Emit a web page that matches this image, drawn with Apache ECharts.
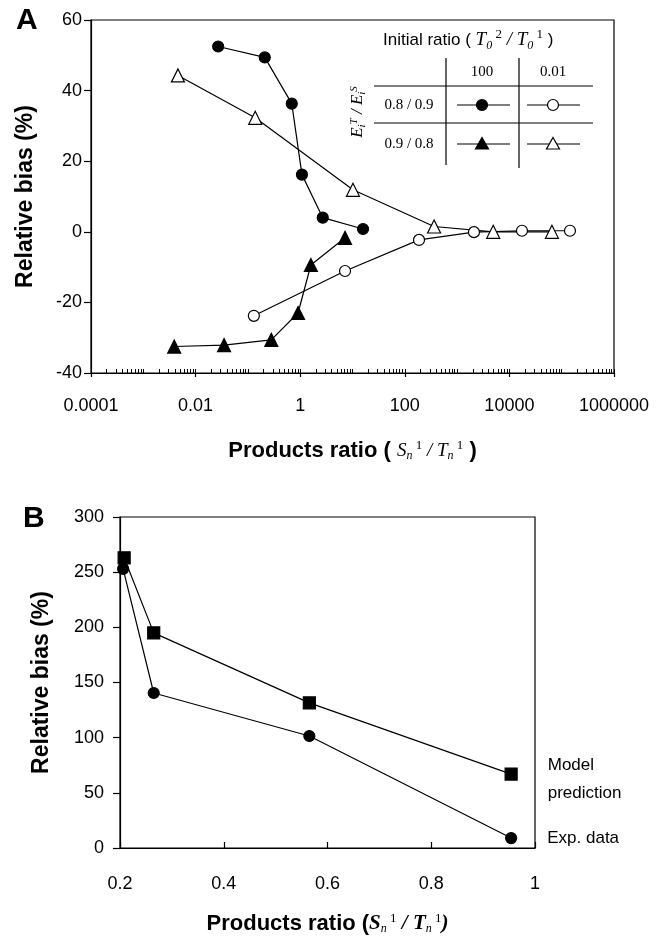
<!DOCTYPE html>
<html>
<head>
<meta charset="utf-8">
<script src="https://cdn.jsdelivr.net/npm/echarts@6/dist/echarts.min.js"></script>
<style>
  html, body { margin: 0; padding: 0; background: #fff; }
  #chart { width: 657px; height: 939px; }
</style>
</head>
<body>
<div id="chart"></div>
<script>
// panel A : relative bias vs products ratio (log x)
const aFilledCircleX = [0.027, 0.21, 0.69, 1.08, 2.7, 15.9];
const aFilledCircleY = [52.5, 49.4, 36.3, 16.2, 4.0, 0.8];
const aOpenCircleX = [0.13, 7.2, 187, 2100, 17400, 144000];
const aOpenCircleY = [-23.8, -11.1, -2.3, -0.1, 0.3, 0.3];
const aFilledTriX = [0.0039, 0.035, 0.28, 0.91, 1.6, 7.2];
const aFilledTriY = [-32.5, -32.1, -30.6, -23.0, -9.4, -1.7];
const aOpenTriX = [0.0046, 0.138, 10.2, 363, 4900, 65000];
const aOpenTriY = [44.3, 32.3, 11.9, 1.5, 0, 0];

const xTicksA = [0.0001, 0.01, 1, 100, 10000, 1000000];
const xTickLabelsA = ['0.0001', '0.01', '1', '100', '10000', '1000000'];

// panel B
const bModelX = [0.208, 0.265, 0.565, 0.954];
const bModelY = [263, 195, 131.5, 67];
const bExpX = [0.206, 0.265, 0.565, 0.954];
const bExpY = [253, 140.5, 101.5, 9];

// minor ticks of the log axis (1..9 per decade)
const minorTicksA = [];
for (let e = -4; e < 6; e++) {
    for (let k = 1; k < 10; k++) minorTicksA.push(k * Math.pow(10, e));
}
minorTicksA.push(1e6);

const pairs = (xs, ys) => xs.map((x, i) => [x, ys[i]]);
const SANS = 'Liberation Sans, Arial, sans-serif';
const SERIF = 'Liberation Serif, Times New Roman, serif';
const black = '#000';

const chart = echarts.init(document.getElementById('chart'), null, { renderer: 'canvas' });

const axisCommon = {
    axisLine: { show: true, onZero: false, lineStyle: { color: black, width: 1.2 } },
    splitLine: { show: false },
    axisLabel: { color: black, fontSize: 18, fontFamily: SANS },
    nameTextStyle: { color: black, fontFamily: SANS, fontWeight: 'bold', fontSize: 23 }
};

function lineSeries(name, xi, yi, data, symbol, size, filled) {
    return {
        name: name,
        type: 'line',
        xAxisIndex: xi,
        yAxisIndex: yi,
        data: data,
        symbol: symbol,
        symbolSize: size,
        showAllSymbol: true,
        lineStyle: { color: black, width: 1.2 },
        itemStyle: { color: filled ? black : '#fff', borderColor: black, borderWidth: 1.2 },
        emphasis: { disabled: true },
        animation: false
    };
}

function tri(cx, cy, filled) {
    return {
        type: 'polygon',
        shape: { points: [[cx, cy - 6.5], [cx + 6.5, cy + 5], [cx - 6.5, cy + 5]] },
        style: { fill: filled ? black : '#fff', stroke: black, lineWidth: 1.2 }
    };
}

const supRich = {
    s: { fontFamily: SERIF, fontStyle: 'italic', fontSize: 19, color: black },
    sub: { fontFamily: SERIF, fontStyle: 'italic', fontSize: 12, color: black, verticalAlign: 'bottom', padding: [10, 0, 0, 0] },
    sup: { fontFamily: SERIF, fontSize: 13, color: black, verticalAlign: 'top', padding: [0, 0, 10, 0] },
    t: { fontFamily: SANS, fontSize: 17, color: black }
};

chart.setOption({
    backgroundColor: '#fff',
    animation: false,
    grid: [
        { left: 91, top: 20, width: 523, height: 353, show: true, borderColor: black, borderWidth: 1.2 },
        { left: 120, top: 517, width: 415, height: 331, show: true, borderColor: black, borderWidth: 1.2 }
    ],
    xAxis: [
        Object.assign({}, axisCommon, {
            gridIndex: 0, type: 'log', logBase: 10, min: 0.0001, max: 1000000,
            axisTick: { show: true, inside: false, length: 4, lineStyle: { color: black, width: 1.2 }, customValues: xTicksA },
            axisLabel: Object.assign({}, axisCommon.axisLabel, {
                margin: 24,
                customValues: xTicksA,
                formatter: (v) => {
                    const i = xTicksA.findIndex(t => Math.abs(Math.log10(t) - Math.log10(v)) < 1e-6);
                    return i >= 0 ? xTickLabelsA[i] : '';
                }
            }),
            name: '{b|Products ratio ( }{s|S}{sub|n}{sup| 1}{s| / T}{sub|n}{sup| 1}{b| )}',
            nameLocation: 'middle', nameGap: 66,
            nameTextStyle: {
                rich: Object.assign({}, supRich, {
                    b: { fontFamily: SANS, fontWeight: 'bold', fontSize: 22, color: black }
                })
            }
        }),
        {
            gridIndex: 0, type: 'log', logBase: 10, min: 0.0001, max: 1000000, position: 'bottom',
            axisLine: { show: false, onZero: false },
            axisTick: { show: true, inside: true, length: 4, lineStyle: { color: black, width: 1 }, customValues: minorTicksA },
            axisLabel: { show: false },
            splitLine: { show: false }
        },
        Object.assign({}, axisCommon, {
            gridIndex: 1, type: 'value', min: 0.2, max: 1, interval: 0.2,
            axisTick: { show: true, inside: true, length: 6, lineStyle: { color: black, width: 1.2 } },
            axisLabel: Object.assign({}, axisCommon.axisLabel, {
                margin: 27,
                formatter: (v) => String(+v.toFixed(1))
            }),
            name: '{b|Products ratio (}{s|S}{sub|n}{sup| 1}{s| / T}{sub|n}{sup| 1}{s|)}',
            nameLocation: 'middle', nameGap: 64,
            nameTextStyle: {
                rich: Object.assign({}, supRich, {
                    b: { fontFamily: SANS, fontWeight: 'bold', fontSize: 22, color: black },
                    s: { fontFamily: SERIF, fontStyle: 'italic', fontWeight: 'bold', fontSize: 21, color: black }
                })
            }
        })
    ],
    yAxis: [
        Object.assign({}, axisCommon, {
            gridIndex: 0, type: 'value', min: -40, max: 60, interval: 20,
            axisTick: { show: true, inside: false, length: 7, lineStyle: { color: black, width: 1.2 } },
            axisLabel: Object.assign({}, axisCommon.axisLabel, { margin: 9 }),
            name: 'Relative bias (%)', nameLocation: 'middle', nameGap: 54
        }),
        Object.assign({}, axisCommon, {
            gridIndex: 1, type: 'value', min: 0, max: 300, interval: 50,
            axisTick: { show: true, inside: false, length: 7, lineStyle: { color: black, width: 1.2 } },
            axisLabel: Object.assign({}, axisCommon.axisLabel, { margin: 16 }),
            name: 'Relative bias (%)', nameLocation: 'middle', nameGap: 67
        })
    ],
    series: [
        lineSeries('100, 0.8/0.9', 0, 0, pairs(aFilledCircleX, aFilledCircleY), 'circle', 11, true),
        lineSeries('0.01, 0.8/0.9', 0, 0, pairs(aOpenCircleX, aOpenCircleY), 'circle', 11, false),
        lineSeries('100, 0.9/0.8', 0, 0, pairs(aFilledTriX, aFilledTriY), 'triangle', 13, true),
        lineSeries('0.01, 0.9/0.8', 0, 0, pairs(aOpenTriX, aOpenTriY), 'triangle', 13, false),
        Object.assign(lineSeries('Model prediction', 2, 1, pairs(bModelX, bModelY), 'rect', 12, true), {
            label: {
                show: true, position: 'right', distance: 30, align: 'left', offset: [0, 5],
                color: black, fontFamily: SANS, fontSize: 17, lineHeight: 28,
                formatter: (p) => p.dataIndex === bModelX.length - 1 ? 'Model\nprediction' : ''
            }
        }),
        Object.assign(lineSeries('Exp. data', 2, 1, pairs(bExpX, bExpY), 'circle', 11, true), {
            label: {
                show: true, position: 'right', distance: 30, align: 'left',
                color: black, fontFamily: SANS, fontSize: 17,
                formatter: (p) => p.dataIndex === bExpX.length - 1 ? 'Exp. data' : ''
            }
        })
    ],
    graphic: [
        { type: 'text', left: 16, top: 6, style: { text: 'A', font: 'bold 30px ' + SANS, fill: black } },
        { type: 'text', left: 23, top: 504, style: { text: 'B', font: 'bold 30px ' + SANS, fill: black } },
        // legend table
        {
            type: 'text', x: 383, y: 40,
            style: {
                text: '{t|Initial ratio ( }{s|T}{sub|0}{sup| 2}{s| / T}{sub|0}{sup| 1}{t| )}',
                rich: supRich, textVerticalAlign: 'middle'
            }
        },
        { type: 'line', shape: { x1: 446, y1: 58, x2: 446, y2: 165 }, style: { stroke: black, lineWidth: 1.2 } },
        { type: 'line', shape: { x1: 519, y1: 58, x2: 519, y2: 168 }, style: { stroke: black, lineWidth: 1.2 } },
        { type: 'line', shape: { x1: 374, y1: 86, x2: 593, y2: 86 }, style: { stroke: black, lineWidth: 1.2 } },
        { type: 'line', shape: { x1: 374, y1: 123, x2: 593, y2: 123 }, style: { stroke: black, lineWidth: 1.2 } },
        { type: 'text', x: 482, y: 72, style: { text: '100', font: '15px ' + SERIF, fill: black, textAlign: 'center', textVerticalAlign: 'middle' } },
        { type: 'text', x: 553, y: 72, style: { text: '0.01', font: '15px ' + SERIF, fill: black, textAlign: 'center', textVerticalAlign: 'middle' } },
        { type: 'text', x: 409, y: 105, style: { text: '0.8 / 0.9', font: '15px ' + SERIF, fill: black, textAlign: 'center', textVerticalAlign: 'middle' } },
        { type: 'text', x: 409, y: 144, style: { text: '0.9 / 0.8', font: '15px ' + SERIF, fill: black, textAlign: 'center', textVerticalAlign: 'middle' } },
        { type: 'line', shape: { x1: 457, y1: 105, x2: 510, y2: 105 }, style: { stroke: black, lineWidth: 1.2 } },
        { type: 'line', shape: { x1: 527, y1: 105, x2: 580, y2: 105 }, style: { stroke: black, lineWidth: 1.2 } },
        { type: 'line', shape: { x1: 457, y1: 144, x2: 510, y2: 144 }, style: { stroke: black, lineWidth: 1.2 } },
        { type: 'line', shape: { x1: 527, y1: 144, x2: 580, y2: 144 }, style: { stroke: black, lineWidth: 1.2 } },
        { type: 'circle', shape: { cx: 482, cy: 105, r: 5.5 }, style: { fill: black, stroke: black, lineWidth: 1.2 } },
        { type: 'circle', shape: { cx: 553, cy: 105, r: 5.5 }, style: { fill: '#fff', stroke: black, lineWidth: 1.2 } },
        tri(482, 144, true),
        tri(553, 144, false),
        {
            type: 'text', x: 358, y: 112, rotation: Math.PI / 2,
            style: {
                text: '{s|E}{sub|i}{sup|T}{s| / E}{sub|i}{sup|S}',
                rich: {
                    s: { fontFamily: SERIF, fontStyle: 'italic', fontSize: 17, color: black },
                    sub: { fontFamily: SERIF, fontStyle: 'italic', fontSize: 11, color: black, verticalAlign: 'bottom', padding: [8, 0, 0, 0] },
                    sup: { fontFamily: SERIF, fontStyle: 'italic', fontSize: 11, color: black, verticalAlign: 'top', padding: [0, 0, 8, 0] }
                },
                textAlign: 'center', textVerticalAlign: 'middle'
            }
        }
    ]
});
</script>
</body>
</html>
